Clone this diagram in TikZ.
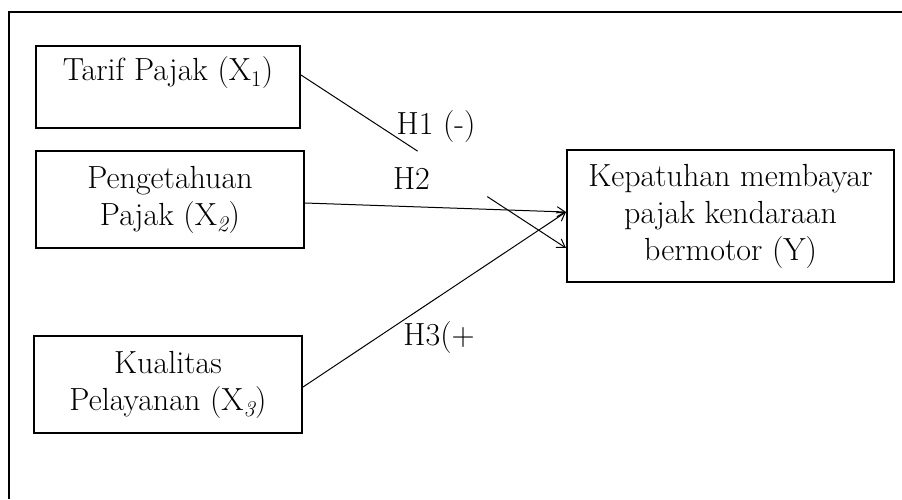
\documentclass[tikz,border=0pt]{standalone}
\usepackage{fontspec}
\usetikzlibrary{arrows.meta,calc}
\tikzset{
  box/.style={draw, line width=2pt, rectangle, align=center, inner sep=0pt,
              font=\fontsize{32}{37}\selectfont},
  hlabel/.style={anchor=base, inner sep=0pt, font=\fontsize{32}{37}\selectfont},
  conn/.style={line width=1pt},
  arr/.style={conn, -{Straight Barb[length=8pt,width=10pt,line width=1pt]}},
  frame/.style={line width=2pt}
}
\begin{document}
\begin{tikzpicture}[x=1pt,y=-1pt]
\useasboundingbox (0,0) rectangle (902,499);
% outer frame (top and left sides visible)
\coordinate (fTL) at (9,12);
\coordinate (fTR) at (902,12);
\coordinate (fBL) at (9,499);
\draw[frame] (fTR) -- (fTL) -- (fBL);

\node[box, minimum width=264pt, minimum height=82pt] (b1) at (168,87)
  {Tarif Pajak (X\textsubscript{1})\\ \mbox{}};
\node[box, minimum width=268pt, minimum height=97pt] (b2) at (170,199.5)
  {Pengetahuan\\ Pajak (X\textsubscript{\itshape 2})};
\node[box, minimum width=268pt, minimum height=97pt] (b3) at (168,384.5)
  {Kualitas\\ Pelayanan (X\textsubscript{\itshape 3})};
\node[box, minimum width=327pt, minimum height=132pt] (y) at (730.5,216)
  {Kepatuhan membayar\\ pajak kendaraan\\ bermotor (Y)};

% H1 (line interrupted)
\coordinate (s1) at ([yshift=12pt]b1.east);
\coordinate (e1) at ([yshift=-32pt]y.west);
\coordinate (g1) at ($(s1)!0.44!(e1)$);
\coordinate (g2) at ($(s1)!0.703!(e1)$);
\draw[conn] (s1) -- (g1);
\draw[arr] (g2) -- (e1);

% H2
\draw[arr] ([yshift=-3.5pt]b2.east) -- ([yshift=4pt]y.west);
% H3
\draw[arr] ([yshift=-2.5pt]b3.east) -- ([yshift=4pt]y.west);

\node[hlabel] (h1) at (436,134) {H1 (-)};
\node[hlabel] (h2) at (411.5,189) {H2};
\node[hlabel] (h3) at (439,345) {H3(+};
\end{tikzpicture}
\end{document}
